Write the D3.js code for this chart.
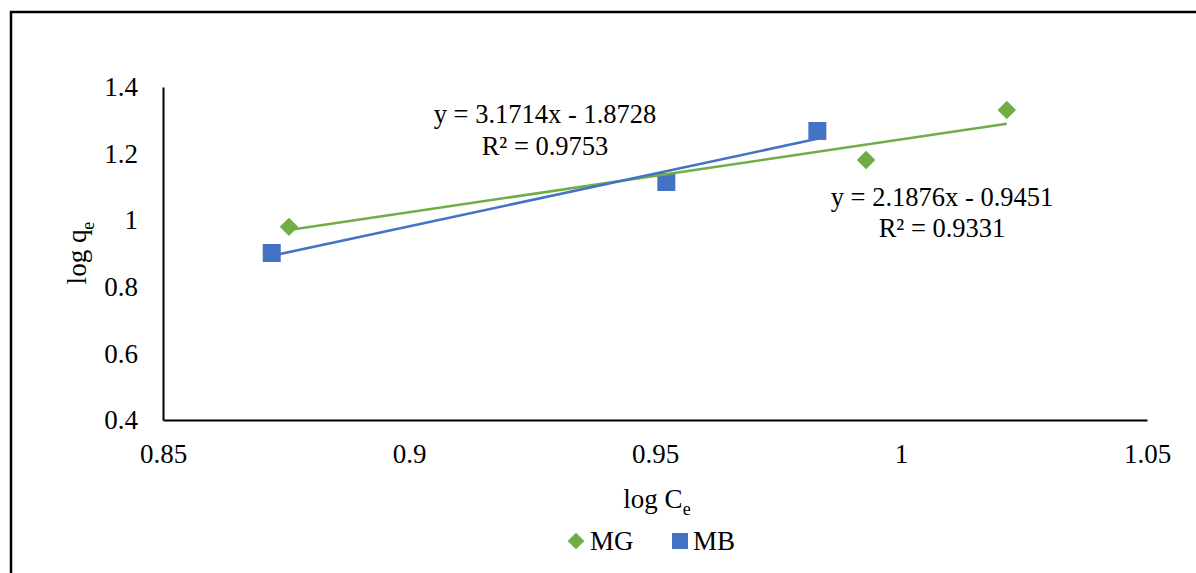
<!DOCTYPE html>
<html>
<head>
<meta charset="utf-8">
<script src="https://cdn.jsdelivr.net/npm/d3@7"></script>
<style>
  html, body { margin: 0; padding: 0; background: #fff; }
</style>
</head>
<body>
<svg id="chart" width="1196" height="573"></svg>
<script>
// ---- data ----
const seriesNames = ["MG", "MB"];
const mgX = [0.8756, 0.9929, 1.0215];
const mgY = [0.980, 1.181, 1.331];
const mbX = [0.8721, 0.9523, 0.9830];
const mbY = [0.9015, 1.1147, 1.268];
const trendSlopes = [2.1876, 3.1714];
const trendIntercepts = [-0.9451, -1.8728];
const trendEquations = ["y = 2.1876x - 0.9451", "y = 3.1714x - 1.8728"];
const trendR2 = ["R² = 0.9331", "R² = 0.9753"];
const xTicks = [0.85, 0.9, 0.95, 1, 1.05];
const xTickLabels = ["0.85", "0.9", "0.95", "1", "1.05"];
const yTicks = [0.4, 0.6, 0.8, 1, 1.2, 1.4];
const yTickLabels = ["0.4", "0.6", "0.8", "1", "1.2", "1.4"];

const colors = ["#70AD47", "#4472C4"];
const FONT = "'Liberation Serif', 'Times New Roman', Tinos, 'DejaVu Serif', serif";

const svg = d3.select("#chart").style("font-family", FONT);

// outer frame (only left and top edges are visible in the picture)
svg.append("rect")
  .attr("x", 11).attr("y", 12).attr("width", 1400).attr("height", 800)
  .attr("fill", "none").attr("stroke", "#000").attr("stroke-width", 2.5);

const x = d3.scaleLinear().domain([0.85, 1.05]).range([163, 1147]);
const y = d3.scaleLinear().domain([0.4, 1.4]).range([420, 87]);

// axes
const xAxis = d3.axisBottom(x).tickValues(xTicks)
  .tickFormat((d, i) => xTickLabels[i]).tickSize(0).tickSizeOuter(0).tickPadding(24);
const gx = svg.append("g").attr("transform", "translate(0,420)").call(xAxis)
  .attr("font-family", null).attr("font-size", null);
gx.select(".domain").attr("stroke", "#000").attr("stroke-width", 2);
gx.selectAll("text").style("font-family", FONT).style("font-size", "27px").attr("fill", "#000");

const yAxis = d3.axisLeft(y).tickValues(yTicks)
  .tickFormat((d, i) => yTickLabels[i]).tickSize(0).tickSizeOuter(0).tickPadding(25);
const gy = svg.append("g").attr("transform", "translate(163,0)").call(yAxis)
  .attr("font-family", null).attr("font-size", null);
gy.select(".domain").attr("stroke", "#000").attr("stroke-width", 2);
gy.selectAll("text").style("font-family", FONT).style("font-size", "27px").attr("fill", "#000");

// markers
const mgData = mgX.map((v, i) => ({ x: v, y: mgY[i] }));
const mbData = mbX.map((v, i) => ({ x: v, y: mbY[i] }));

svg.append("g").selectAll("path").data(mgData).join("path")
  .attr("d", d3.symbol().type(d3.symbolSquare).size(170))
  .attr("transform", d => `translate(${x(d.x)},${y(d.y)}) rotate(45)`)
  .attr("fill", colors[0]);

svg.append("g").selectAll("rect").data(mbData).join("rect")
  .attr("x", d => x(d.x) - 9).attr("y", d => y(d.y) - 9)
  .attr("width", 18).attr("height", 18)
  .attr("fill", colors[1]);

// trendlines
[mgX, mbX].forEach((xs, k) => {
  const x0 = d3.min(xs), x1 = d3.max(xs);
  const pts = [x0, x1].map(v => [x(v), y(trendSlopes[k] * v + trendIntercepts[k])]);
  svg.append("path")
    .attr("d", d3.line()(pts))
    .attr("stroke", colors[k]).attr("stroke-width", 2.5).attr("fill", "none");
});

function addText(sel) {
  return sel.append("text").style("font-family", FONT).attr("fill", "#000");
}

// trendline equations
const eqPos = [[942, 206, 237], [545, 123, 155]];
eqPos.forEach((p, k) => {
  addText(svg).attr("x", p[0]).attr("y", p[1])
    .attr("text-anchor", "middle").style("font-size", "26.5px").text(trendEquations[k]);
  addText(svg).attr("x", p[0]).attr("y", p[2])
    .attr("text-anchor", "middle").style("font-size", "26.5px").text(trendR2[k]);
});

// axis titles
const xt = addText(svg).attr("x", 657).attr("y", 508)
  .attr("text-anchor", "middle").style("font-size", "27px");
xt.append("tspan").text("log C");
xt.append("tspan").attr("dy", 7).style("font-size", "18px").text("e");

const yt = addText(svg).attr("transform", "translate(86,253) rotate(-90)")
  .attr("text-anchor", "middle").style("font-size", "27px");
yt.append("tspan").text("log q");
yt.append("tspan").attr("dy", 8).style("font-size", "18px").text("e");

// legend
const lg = svg.append("g");
lg.append("path")
  .attr("d", d3.symbol().type(d3.symbolSquare).size(140))
  .attr("transform", "translate(576,541) rotate(45)")
  .attr("fill", colors[0]);
addText(lg).attr("x", 590).attr("y", 550).style("font-size", "27px").text(seriesNames[0]);
lg.append("rect").attr("x", 672).attr("y", 533).attr("width", 16).attr("height", 16).attr("fill", colors[1]);
addText(lg).attr("x", 693).attr("y", 550).style("font-size", "27px").text(seriesNames[1]);
</script>
</body>
</html>
